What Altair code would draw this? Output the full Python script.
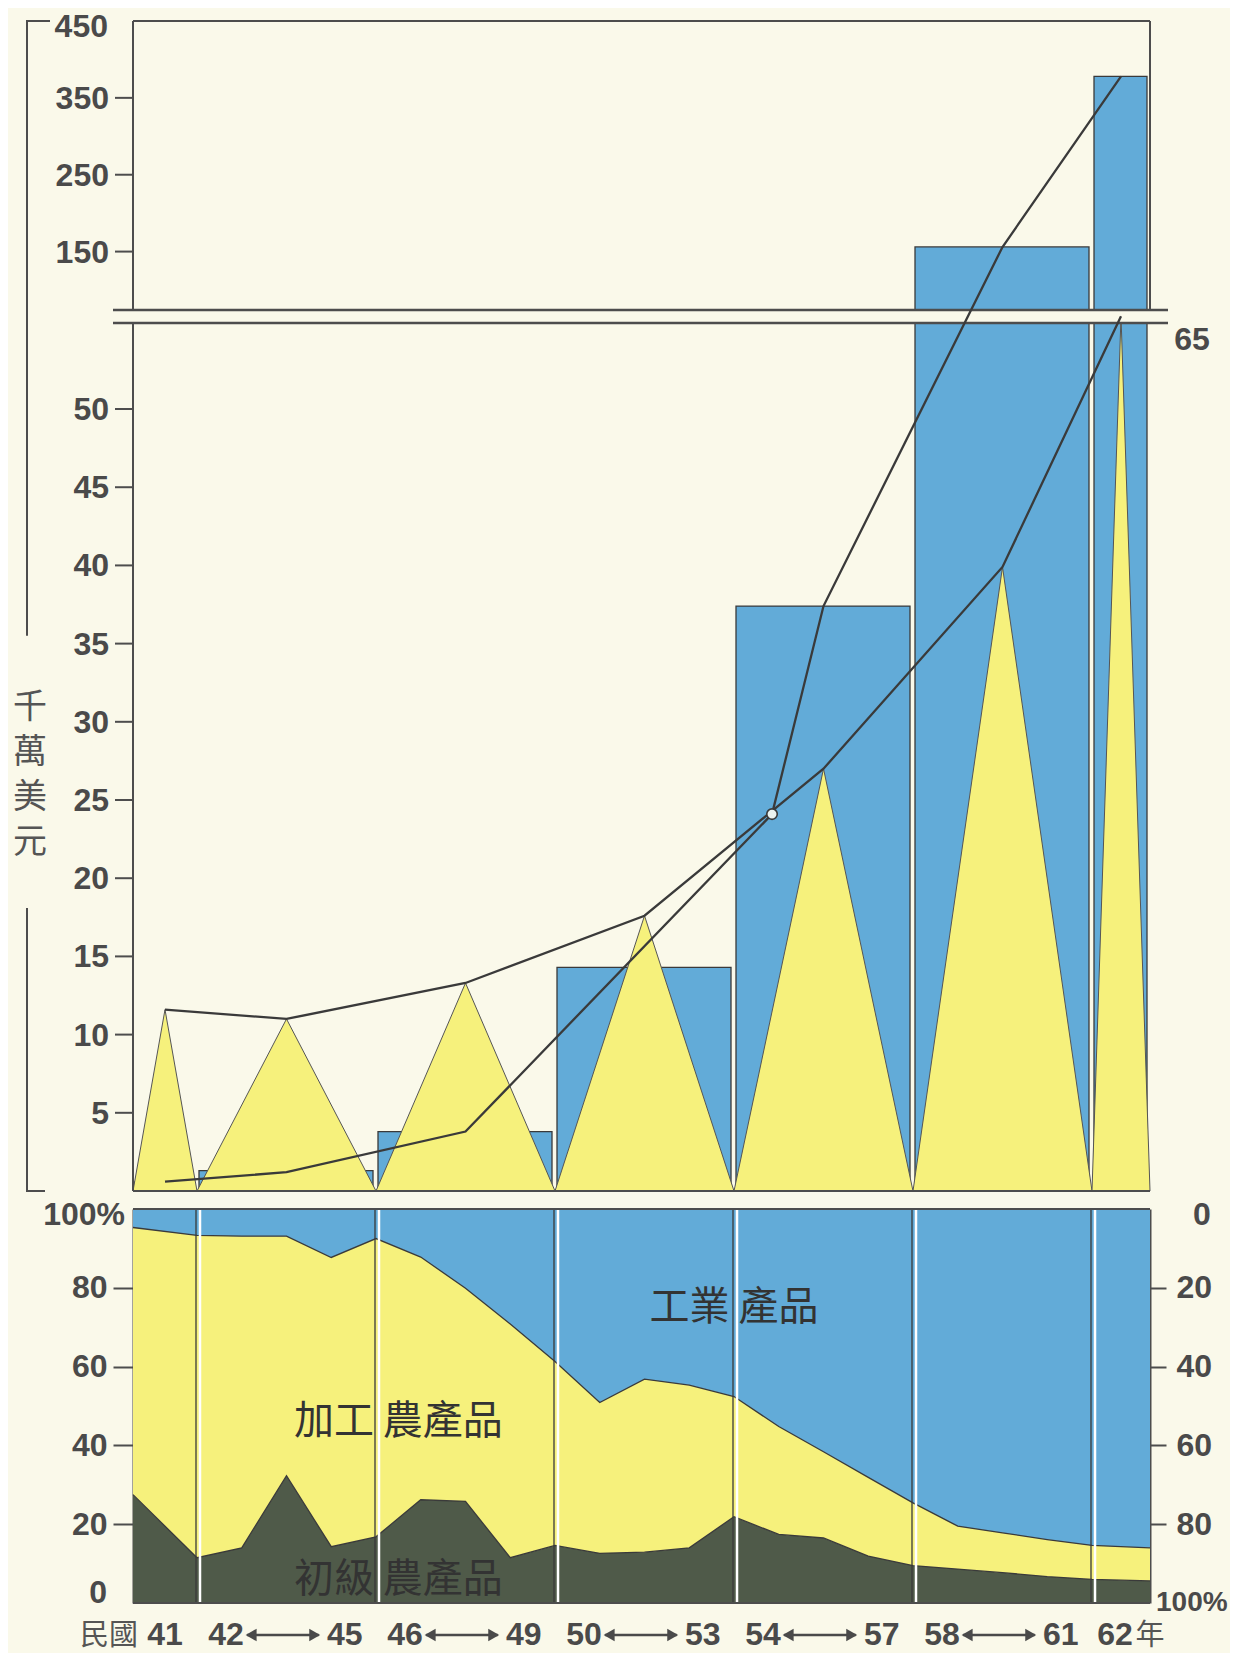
import altair as alt
import pandas as pd

# ---------------- data ----------------
# periods (民國 years); x positions use a piecewise year scale
period_start = [41, 42, 46, 50, 54, 58, 62]
period_end = [42, 46, 50, 54, 58, 62, 63]
period_first = ["41", "42", "46", "50", "54", "58", "62"]
period_last = ["", "45", "49", "53", "57", "61", ""]
period_mid = [41.5, 44, 48, 52, 56, 60, 62.5]

# blue bars (千萬美元)
bar_value = [0.6, 1.3, 3.8, 14.3, 37.4, 156, 378]
# yellow triangles: peak values (千萬美元)
tri_peak = [11.6, 11.0, 13.3, 17.6, 27.0, 39.9, 65]

# line through the bar tops
lineB_x = [41.5, 44, 48, 54.85, 56, 60, 62.5]
lineB_y = [0.6, 1.2, 3.8, 24.1, 37.4, 156, 378]
# circle where the two lines cross
cross_x = [54.85]
cross_y = [24.1]

# left axis ticks of the upper chart (broken axis)
ytick_values = [5, 10, 15, 20, 25, 30, 35, 40, 45, 50, 150, 250, 350]

# bottom panel: shares in percent (last point = right edge of the 62 column)
share_x = [41, 42, 43, 44, 45, 46, 47, 48, 49, 50, 51, 52, 53, 54, 55, 56,
           57, 58, 59, 60, 61, 62, 63]
primary_pct = [27.5, 11.5, 14.0, 32.3, 14.3, 16.8, 26.2, 25.8, 11.5, 14.6,
               12.6, 12.9, 14.0, 21.9, 17.4, 16.5, 11.9, 9.5, 8.6, 7.7, 6.7,
               6.0, 5.6]
agri_total_pct = [95.3, 93.3, 93.1, 93.1, 87.7, 92.5, 87.8, 79.9, 70.8, 61.3,
                  50.9, 56.8, 55.3, 52.4, 44.8, 38.4, 31.9, 25.4, 19.5, 17.8,
                  16.1, 14.6, 14.0]

cat_names = ["初級農產品", "加工農產品", "工業產品"]

# ---------------- style ----------------
BG = "#faf9ea"
BLUE = "#62abd8"
YELLOW = "#f6f17c"
DARKG = "#4f5a49"
DARK = "#3a3a3a"
AX = "#4d4d4d"
AXT = "#4a4a4a"
NUMFONT = "Liberation Sans"
CJK = "Noto Sans CJK TC"

W = 1017
H = 1582          # whole plot area (upper chart + gap + share panel)
TOP_H = 1170      # upper chart
BOT_TOP = 1188    # share panel top

XS = alt.Scale(domain=[41, 42, 62, 63], range=[0, 64, 959, W], nice=False, zero=False)
YS1 = alt.Scale(domain=[0, 55.5, 74, 450], range=[TOP_H, 302, 289, 0], nice=False, zero=False)
YS2 = alt.Scale(domain=[0, 100], range=[H, BOT_TOP], nice=False, zero=True)

one = pd.DataFrame({"k": [0]})
txt_num = dict(font=NUMFONT, fontSize=32, fontWeight="bold", color=AXT)


def ty(field, **kw):
    return alt.Y(field, scale=YS1, axis=None, title=None, **kw)


def tyd(v):
    return alt.YDatum(v, scale=YS1, axis=None)


def by(field, **kw):
    return alt.Y(field, scale=YS2, axis=None, title=None, **kw)


def byd(v):
    return alt.YDatum(v, scale=YS2, axis=None)


def xf(field):
    return alt.X(field, scale=XS, axis=None, title=None)


def xd(v):
    return alt.XDatum(v, scale=XS, axis=None)


# ---------------- upper chart ----------------
bars_df = pd.DataFrame({"start": period_start, "end": period_end, "value": bar_value,
                        "base": [0] * len(bar_value)})
tri_rows = []
for i in range(len(period_start)):
    tri_rows += [
        {"p": i, "x": period_start[i], "y": 0},
        {"p": i, "x": period_mid[i], "y": tri_peak[i]},
        {"p": i, "x": period_end[i], "y": 0},
    ]
tri_df = pd.DataFrame(tri_rows)
lineA_df = pd.DataFrame({"x": period_mid, "y": tri_peak})
lineB_df = pd.DataFrame({"x": lineB_x, "y": lineB_y})
cross_df = pd.DataFrame({"x": cross_x, "y": cross_y})
tick_df = pd.DataFrame({"v": ytick_values, "t": [str(v) for v in ytick_values]})

bars = alt.Chart(bars_df).mark_rect(fill=BLUE, stroke=DARK, strokeWidth=1.3,
                                    xOffset=2, x2Offset=-3).encode(
    x=xf("start:Q"), x2="end:Q", y=ty("value:Q"), y2="base:Q")

tri = alt.Chart(tri_df).mark_area(fill=YELLOW, stroke="#555555", strokeWidth=1,
                                  opacity=1).encode(
    x=xf("x:Q"), y=ty("y:Q", stack=None), detail="p:N")

gap = alt.Chart(one).mark_rect(fill=BG).encode(
    x=alt.value(-20), x2=alt.value(W + 18), y=tyd(55.5), y2=alt.Y2Datum(74))

breaks = alt.Chart(pd.DataFrame({"v": [74, 55.5]})).mark_rule(color=AX, strokeWidth=2.5).encode(
    x=alt.value(-20), x2=alt.value(W + 18), y=ty("v:Q"))

dom_df = pd.DataFrame({"a": [0, 74], "b": [55.5, 450]})
ydomain = alt.Chart(dom_df).mark_rule(color=AX, strokeWidth=2).encode(
    x=xd(41), y=ty("a:Q"), y2="b:Q")
yticks = alt.Chart(tick_df).mark_rule(color=AX, strokeWidth=2).encode(
    x=alt.value(-18), x2=alt.value(0), y=ty("v:Q"))
ylabels = alt.Chart(tick_df).mark_text(align="right", baseline="middle", dy=1,
                                       **txt_num).encode(
    x=alt.value(-24), y=ty("v:Q"), text="t:N")
lbl450 = alt.Chart(one).mark_text(align="right", baseline="middle", dx=-25, dy=6,
                                  **txt_num).encode(
    x=xd(41), y=tyd(450), text=alt.value("450"))

frame_top = alt.Chart(one).mark_rule(color=AX, strokeWidth=2).encode(
    x=xd(41), x2=alt.X2Datum(63), y=tyd(450))
frame_right = alt.Chart(one).mark_rule(color=AX, strokeWidth=2).encode(
    x=xd(63), y=tyd(74), y2=alt.Y2Datum(450))
frame_bottom = alt.Chart(one).mark_rule(color=AX, strokeWidth=2.2).encode(
    x=xd(41), x2=alt.X2Datum(63), y=tyd(0))

lineA = alt.Chart(lineA_df).mark_line(color=DARK, strokeWidth=2.3).encode(
    x=xf("x:Q"), y=ty("y:Q"))
lineB = alt.Chart(lineB_df).mark_line(color=DARK, strokeWidth=2.3).encode(
    x=xf("x:Q"), y=ty("y:Q"))
cross = alt.Chart(cross_df).mark_point(shape="circle", size=110, filled=True,
                                       fill="#eaf2ef", stroke=DARK, strokeWidth=1.6,
                                       opacity=1).encode(
    x=xf("x:Q"), y=ty("y:Q"))

lbl65 = alt.Chart(one).mark_text(align="center", baseline="middle", dx=42, dy=24,
                                 **txt_num).encode(
    x=xd(63), y=tyd(65), text=alt.value("65"))

# unit bracket on the left
br_df = pd.DataFrame({"a": [35.5, 0], "b": [450, 18.1]})
br_v = alt.Chart(br_df).mark_rule(color=AX, strokeWidth=2).encode(
    x=alt.value(-106), y=ty("a:Q"), y2="b:Q")
br_h1 = alt.Chart(one).mark_rule(color=AX, strokeWidth=2).encode(
    x=alt.value(-107), x2=alt.value(-83), y=tyd(450))
br_h2 = alt.Chart(one).mark_rule(color=AX, strokeWidth=2).encode(
    x=alt.value(-107), x2=alt.value(-88), y=tyd(0))
unit_txt = alt.Chart(one).mark_text(font=CJK, fontSize=34, color="#555555",
                                    lineBreak="\n", lineHeight=45, align="center",
                                    baseline="middle").encode(
    x=alt.value(-103), y=tyd(30.9), text=alt.value("千\n萬\n美\n元"))

# ---------------- share panel ----------------
area_rows = []
line_rows = []
for i, xv in enumerate(share_x):
    p = primary_pct[i]
    t = agri_total_pct[i]
    area_rows += [
        {"x": xv, "lo": 0, "hi": p, "cat": cat_names[0]},
        {"x": xv, "lo": p, "hi": t, "cat": cat_names[1]},
        {"x": xv, "lo": t, "hi": 100, "cat": cat_names[2]},
    ]
    line_rows += [
        {"x": xv, "v": p, "w": "a"},
        {"x": xv, "v": t, "w": "b"},
    ]
area_df = pd.DataFrame(area_rows)
bline_df = pd.DataFrame(line_rows)

left2 = alt.Axis(values=[20, 40, 60, 80], title=None, grid=False, tickSize=20,
                 tickWidth=2, tickColor=AX, domainColor=AX, domainWidth=2,
                 labelFont=NUMFONT, labelFontSize=32, labelFontWeight="bold",
                 labelColor=AXT, labelPadding=6)
right2 = alt.Axis(orient="right", values=[20, 40, 60, 80], labelExpr="100 - datum.value",
                  title=None, grid=False, tickSize=16, tickWidth=2, tickColor=AX,
                  domainColor=AX, domainWidth=2, labelFont=NUMFONT, labelFontSize=32,
                  labelFontWeight="bold", labelColor=AXT, labelPadding=10)

areas = alt.Chart(area_df).mark_area(opacity=1).encode(
    x=xf("x:Q"),
    y=alt.Y("hi:Q", scale=YS2, axis=left2, title=None),
    y2="lo:Q",
    color=alt.Color("cat:N", scale=alt.Scale(domain=cat_names, range=[DARKG, YELLOW, BLUE]),
                    legend=None),
)
blines = alt.Chart(bline_df).mark_line(color=DARK, strokeWidth=1.3).encode(
    x=xf("x:Q"), y=by("v:Q"), detail="w:N")
bframe = alt.Chart(pd.DataFrame({"v": [0, 100]})).mark_rule(color=AX, strokeWidth=2).encode(
    x=xd(41), x2=alt.X2Datum(63),
    y=alt.Y("v:Q", scale=YS2, axis=right2, title=None),
)
div_df = pd.DataFrame({"b": period_start[1:], "lo": 0, "hi": 100})
div_dark = alt.Chart(div_df).mark_rule(color=DARK, strokeWidth=1.3, xOffset=-1).encode(
    x=xf("b:Q"), y=by("lo:Q"), y2="hi:Q")
div_white = alt.Chart(div_df).mark_rule(color="#ffffff", strokeWidth=2.5, xOffset=3).encode(
    x=xf("b:Q"), y=by("lo:Q"), y2="hi:Q")

cat_lbl_df = pd.DataFrame({
    "x": [54.0, 46.5, 46.5],
    "y": [75, 46, 5.8],
    "t": ["工業  產品", "加工  農產品", "初級  農產品"],
})
cat_lbl = alt.Chart(cat_lbl_df).mark_text(font=CJK, fontSize=40, color="#333333",
                                          align="center", baseline="middle").encode(
    x=xf("x:Q"), y=by("y:Q"), text="t:N")

l100 = alt.Chart(one).mark_text(align="right", baseline="middle", dx=-8, dy=6,
                                **txt_num).encode(
    x=xd(41), y=byd(100), text=alt.value("100%"))
l0 = alt.Chart(one).mark_text(align="right", baseline="middle", dx=-26, dy=-10,
                              **txt_num).encode(
    x=xd(41), y=byd(0), text=alt.value("0"))
r0 = alt.Chart(one).mark_text(align="center", baseline="middle", dx=52, dy=6,
                              **txt_num).encode(
    x=xd(63), y=byd(100), text=alt.value("0"))
r100 = alt.Chart(one).mark_text(align="left", baseline="middle", dx=6, dy=0,
                                font=NUMFONT, fontSize=28, fontWeight="bold",
                                color=AXT).encode(
    x=xd(63), y=byd(0), text=alt.value("100%"))

# x labels (periods)
LY = H + 32
xl_rows = []
ar_rows = []
for i in range(len(period_start)):
    s, e = period_start[i], period_end[i]
    if period_last[i]:
        xl_rows.append({"x": s + 0.65, "t": period_first[i]})
        xl_rows.append({"x": e - 0.7, "t": period_last[i]})
        ar_rows.append({"a": s + 1.12, "b": e - 1.28})
xl_df = pd.DataFrame(xl_rows)
ar_df = pd.DataFrame(ar_rows)
xlabels = alt.Chart(xl_df).mark_text(align="center", baseline="middle", **txt_num).encode(
    x=xf("x:Q"), y=alt.value(LY), text="t:N")
arrows = alt.Chart(ar_df).mark_rule(color=AXT, strokeWidth=2.5).encode(
    x=xf("a:Q"), x2="b:Q", y=alt.value(LY))
head_l = alt.Chart(ar_df).mark_point(shape="triangle-left", filled=True, size=160,
                                     color=AXT, opacity=1, xOffset=4).encode(
    x=xf("a:Q"), y=alt.value(LY))
head_r = alt.Chart(ar_df).mark_point(shape="triangle-right", filled=True, size=160,
                                     color=AXT, opacity=1, xOffset=-4).encode(
    x=xf("b:Q"), y=alt.value(LY))
first_lbl = alt.Chart(pd.DataFrame({"x": [period_mid[0]], "t": [period_first[0]]})).mark_text(
    align="center", baseline="middle", **txt_num).encode(
    x=xf("x:Q"), y=alt.value(LY), text="t:N")
minguo = alt.Chart(pd.DataFrame({"x": [period_mid[0]]})).mark_text(
    align="right", baseline="middle", dx=-27, font=CJK, fontSize=29, color="#555555").encode(
    x=xf("x:Q"), y=alt.value(LY + 1), text=alt.value("民國"))
last_lbl = alt.Chart(pd.DataFrame({"x": [period_mid[-1]], "t": [period_first[-1]]})).mark_text(
    align="center", baseline="middle", dx=-6, **txt_num).encode(
    x=xf("x:Q"), y=alt.value(LY), text="t:N")
nian = alt.Chart(pd.DataFrame({"x": [period_mid[-1]]})).mark_text(
    align="center", baseline="middle", dx=29, font=CJK, fontSize=29, color="#555555").encode(
    x=xf("x:Q"), y=alt.value(LY + 1), text=alt.value("年"))

chart = alt.layer(
    bars, tri, gap, breaks, ydomain, yticks, ylabels, lbl450,
    frame_top, frame_right, frame_bottom,
    lineA, lineB, cross, lbl65, br_v, br_h1, br_h2, unit_txt,
    areas, blines, div_dark, div_white, bframe, cat_lbl, l100, l0, r0, r100,
    xlabels, arrows, head_l, head_r, first_lbl, minguo, last_lbl, nian,
).resolve_scale(y="independent").properties(
    width=W, height=H,
    autosize=alt.AutoSizeParams(type="none"),
    padding={"left": 125, "top": 13, "right": 80, "bottom": 50},
    background=BG,
).configure_view(stroke=None)

chart.save("out.html", embed_options={"renderer": "svg", "actions": False})
